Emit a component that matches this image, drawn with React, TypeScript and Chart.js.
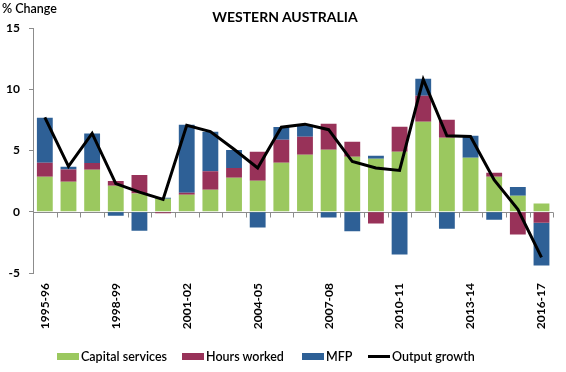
import React, { useEffect, useRef } from "react";
import { Chart, registerables } from "chart.js";

Chart.register(...registerables);

const categories = [
  "1995-96", "1996-97", "1997-98", "1998-99", "1999-00", "2000-01", "2001-02", "2002-03",
  "2003-04", "2004-05", "2005-06", "2006-07", "2007-08", "2008-09", "2009-10", "2010-11",
  "2011-12", "2012-13", "2013-14", "2014-15", "2015-16", "2016-17",
];
const capitalServices = [2.86, 2.45, 3.43, 2.12, 1.5, 1.06, 1.39, 1.8, 2.78, 2.53, 4.0, 4.65, 5.06, 4.49, 4.33, 4.9, 7.35, 6.04, 4.41, 2.86, 1.3, 0.68];
const hoursWorked = [1.15, 1.0, 0.55, 0.4, 1.5, -0.13, 0.16, 1.5, 0.8, 2.37, 1.88, 1.47, 2.12, 1.22, -0.95, 2.04, 2.12, 1.47, 0, 0.33, -1.85, -0.9];
const mfp = [3.67, 0.22, 2.4, -0.33, -1.55, 0.08, 5.55, 3.23, 1.46, -1.28, 1.03, 0.98, -0.46, -1.6, 0.24, -3.48, 1.39, -1.39, 1.8, -0.65, 0.73, -3.48];
const outputGrowth = [7.7, 3.7, 6.4, 2.3, 1.6, 1.0, 7.05, 6.55, 5.1, 3.57, 6.9, 7.15, 6.7, 4.1, 3.57, 3.37, 10.8, 6.2, 6.15, 2.6, 0.2, -3.73];
const yTicks = [-5, 0, 5, 10, 15];

const GREEN = "#9BC85F";
const MAROON = "#983259";
const BLUE = "#2E6096";
const AXIS = "#8C8C8C";
const FONT = "Lato, 'Open Sans', sans-serif";

const zeroAxisPlugin = {
  id: "zeroAxis",
  beforeDatasetsDraw(chart: any) {
    const { ctx, chartArea, scales } = chart;
    const y0 = Math.round(scales.y.getPixelForValue(0)) + 0.5;
    const n = categories.length;
    const step = (chartArea.right - chartArea.left) / n;
    ctx.save();
    ctx.strokeStyle = AXIS;
    ctx.lineWidth = 1;
    ctx.beginPath();
    ctx.moveTo(chartArea.left, y0);
    ctx.lineTo(chartArea.right, y0);
    for (let i = 1; i <= n; i++) {
      const x = Math.round(chartArea.left + i * step) + 0.5;
      ctx.moveTo(x, y0);
      ctx.lineTo(x, y0 + 5);
    }
    ctx.stroke();
    ctx.restore();
  },
};

export default function App() {
  const ref = useRef<HTMLCanvasElement>(null);

  useEffect(() => {
    if (!ref.current) return;
    const chart = new Chart(ref.current, {
      type: "bar",
      data: {
        labels: categories,
        datasets: [
          { type: "line", label: "Output growth", data: outputGrowth, borderColor: "#000", borderWidth: 3, pointRadius: 0, tension: 0, stack: "out", order: 0 } as any,
          { label: "Capital services", data: capitalServices, backgroundColor: GREEN, stack: "bars", order: 1 },
          { label: "Hours worked", data: hoursWorked, backgroundColor: MAROON, stack: "bars", order: 1 },
          { label: "MFP", data: mfp, backgroundColor: BLUE, stack: "bars", order: 1 },
        ],
      },
      options: {
        responsive: false,
        animation: false,
        layout: { padding: { left: 0, right: 5, top: 28, bottom: 0 } },
        plugins: { legend: { display: false }, title: { display: false }, tooltip: { enabled: false } },
        datasets: { bar: { categoryPercentage: 1, barPercentage: 0.67 } },
        scales: {
          x: {
            stacked: true,
            grid: { display: false, drawTicks: false },
            border: { display: false },
            ticks: {
              autoSkip: false,
              minRotation: 90,
              maxRotation: 90,
              padding: 10,
              color: "#000",
              font: { family: FONT, size: 12, weight: "bold" },
              callback: (_v: any, i: number) => (i % 3 === 0 ? categories[i] : ""),
            },
            afterFit: (s: any) => { s.height = 99; },
          },
          y: {
            stacked: true,
            min: -5,
            max: 15,
            afterBuildTicks: (s: any) => { s.ticks = yTicks.map((v) => ({ value: v })); },
            grid: { display: true, drawOnChartArea: false, drawTicks: true, tickLength: 4, color: AXIS },
            border: { display: true, color: AXIS, width: 1 },
            ticks: { padding: 9, color: "#000", font: { family: FONT, size: 12, weight: "bold" } },
            afterFit: (s: any) => { s.width = 33; },
          },
        },
      },
      plugins: [zeroAxisPlugin],
    });
    return () => chart.destroy();
  }, []);

  const legendItem = (left: number, color: string, label: string, isLine = false) => (
    <div style={{ position: "absolute", left, top: 348, display: "flex", alignItems: "center", height: 16 }}>
      <div style={{ width: 22, height: isLine ? 3 : 7, background: color, marginRight: 2 }} />
      <span style={{ fontFamily: FONT, fontSize: 12.5, color: "#000", fontWeight: 600 }}>{label}</span>
    </div>
  );

  return (
    <div style={{ position: "fixed", left: 0, top: 0, width: 566, height: 372, background: "#fff", overflow: "hidden" }}>
      <canvas ref={ref} width={566} height={372} style={{ position: "absolute", left: 0, top: 0 }} />
      <div style={{ position: "absolute", left: 2, top: 1, fontFamily: FONT, fontSize: 12.5, fontWeight: 600, color: "#000" }}>% Change</div>
      <div style={{ position: "absolute", left: 0, width: 570, top: 8, textAlign: "center", fontFamily: FONT, fontSize: 14, fontWeight: "bold", color: "#000" }}>WESTERN AUSTRALIA</div>
      {legendItem(57, GREEN, "Capital services")}
      {legendItem(182, MAROON, "Hours worked")}
      {legendItem(302, BLUE, "MFP")}
      {legendItem(368, "#000", "Output growth", true)}
    </div>
  );
}
